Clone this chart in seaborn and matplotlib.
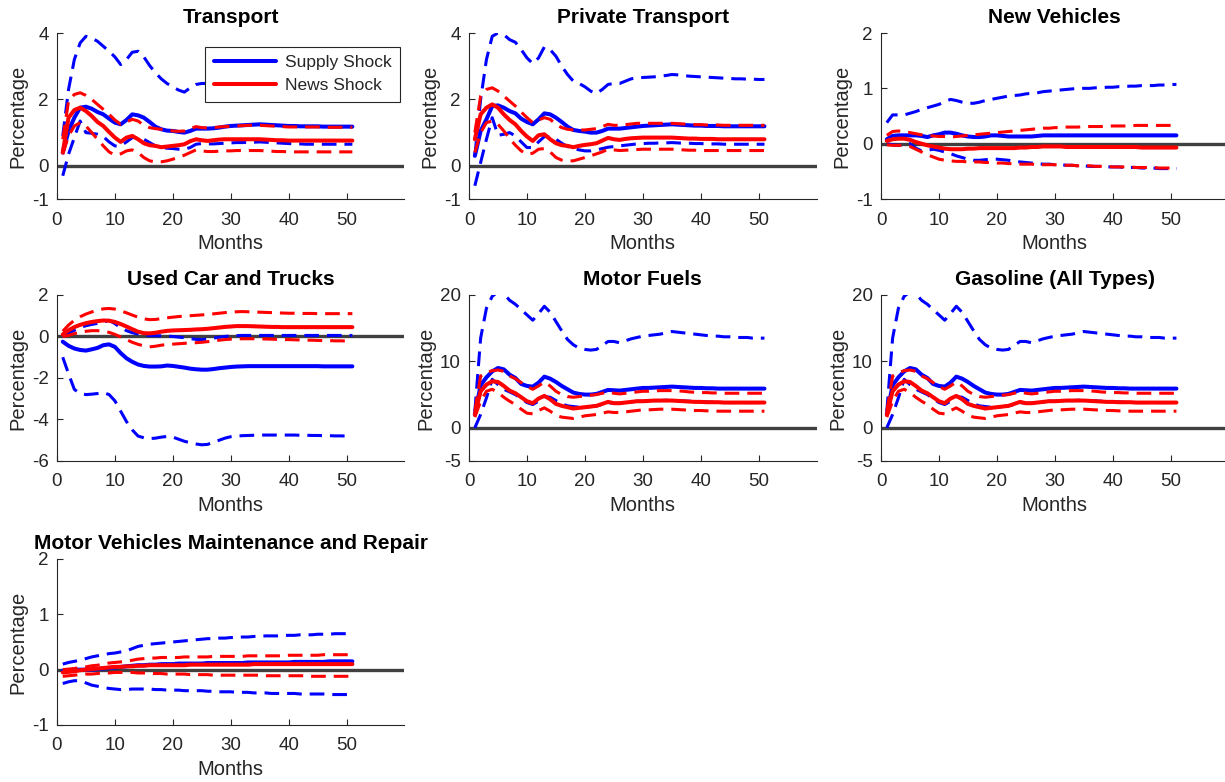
import matplotlib
matplotlib.use("Agg")
import matplotlib.pyplot as plt
import seaborn as sns

# ---------------------------------------------------------------
# Impulse responses (percent) over a 51-month horizon
# med = median response, lo / hi = lower / upper band
# ---------------------------------------------------------------
months = list(range(1, 52))

# Transport
t_sup = [0.40, 1.05, 1.45, 1.75, 1.78, 1.72, 1.62, 1.55, 1.42, 1.30,
         1.25, 1.38, 1.55, 1.52, 1.45, 1.32, 1.18, 1.10, 1.06, 1.05,
         1.02, 1.00, 1.05, 1.12, 1.12, 1.12, 1.13, 1.15, 1.18, 1.20,
         1.21, 1.22, 1.23, 1.24, 1.25, 1.24, 1.23, 1.22, 1.21, 1.20,
         1.20, 1.19, 1.19, 1.19, 1.19, 1.18, 1.18, 1.18, 1.18, 1.18, 1.18]
t_sup_lo = [-0.30, 0.35, 0.85, 1.35, 1.00, 0.98, 0.95, 0.88, 0.72, 0.60,
            0.60, 0.72, 0.85, 0.85, 0.80, 0.70, 0.60, 0.55, 0.53, 0.52,
            0.50, 0.50, 0.55, 0.65, 0.67, 0.66, 0.66, 0.67, 0.68, 0.69,
            0.70, 0.70, 0.71, 0.71, 0.72, 0.71, 0.70, 0.69, 0.68, 0.67,
            0.66, 0.66, 0.65, 0.65, 0.65, 0.65, 0.65, 0.65, 0.65, 0.65, 0.65]
t_sup_hi = [0.90, 2.30, 3.20, 3.70, 3.90, 3.85, 3.75, 3.60, 3.45, 3.28,
            3.05, 3.20, 3.42, 3.45, 3.28, 3.02, 2.80, 2.62, 2.48, 2.38,
            2.28, 2.22, 2.35, 2.45, 2.48, 2.48, 2.52, 2.58, 2.62, 2.65,
            2.66, 2.67, 2.68, 2.70, 2.72, 2.70, 2.68, 2.67, 2.66, 2.65,
            2.64, 2.63, 2.62, 2.62, 2.61, 2.60, 2.60, 2.60, 2.60, 2.60, 2.60]
t_news = [0.40, 1.45, 1.68, 1.75, 1.65, 1.50, 1.32, 1.20, 1.02, 0.85,
          0.72, 0.85, 0.90, 0.80, 0.68, 0.62, 0.60, 0.56, 0.58, 0.60,
          0.62, 0.65, 0.74, 0.80, 0.77, 0.75, 0.77, 0.79, 0.80, 0.80,
          0.80, 0.80, 0.80, 0.80, 0.80, 0.79, 0.78, 0.77, 0.77, 0.76,
          0.76, 0.76, 0.76, 0.76, 0.76, 0.76, 0.76, 0.76, 0.76, 0.76, 0.76]
t_news_lo = [0.35, 0.90, 1.20, 1.30, 1.20, 1.00, 0.80, 0.60, 0.42, 0.32,
             0.36, 0.45, 0.48, 0.40, 0.25, 0.15, 0.12, 0.12, 0.15, 0.20,
             0.25, 0.32, 0.40, 0.48, 0.45, 0.43, 0.43, 0.44, 0.45, 0.45,
             0.46, 0.46, 0.46, 0.46, 0.46, 0.45, 0.44, 0.43, 0.43, 0.42,
             0.42, 0.42, 0.42, 0.42, 0.42, 0.42, 0.42, 0.42, 0.42, 0.42, 0.42]
t_news_hi = [0.80, 1.95, 2.15, 2.20, 2.12, 2.00, 1.85, 1.70, 1.55, 1.38,
             1.25, 1.32, 1.40, 1.35, 1.22, 1.15, 1.12, 1.10, 1.08, 1.05,
             1.04, 1.05, 1.12, 1.18, 1.15, 1.14, 1.15, 1.17, 1.18, 1.19,
             1.20, 1.21, 1.22, 1.22, 1.22, 1.21, 1.20, 1.19, 1.18, 1.17,
             1.17, 1.17, 1.17, 1.17, 1.17, 1.16, 1.16, 1.16, 1.16, 1.16, 1.16]

# Private Transport
p_sup = [0.30, 1.05, 1.40, 1.80, 1.82, 1.75, 1.65, 1.58, 1.42, 1.32,
         1.25, 1.40, 1.58, 1.55, 1.45, 1.32, 1.18, 1.08, 1.05, 1.03,
         1.00, 1.00, 1.05, 1.12, 1.12, 1.12, 1.14, 1.16, 1.18, 1.20,
         1.21, 1.22, 1.23, 1.24, 1.25, 1.24, 1.23, 1.22, 1.21, 1.21,
         1.20, 1.20, 1.20, 1.19, 1.19, 1.19, 1.19, 1.19, 1.19, 1.19, 1.19]
p_sup_lo = [-0.60, 0.10, 0.80, 1.45, 0.92, 0.95, 1.00, 0.90, 0.72, 0.55,
            0.55, 0.72, 0.88, 0.88, 0.80, 0.68, 0.58, 0.52, 0.48, 0.45,
            0.45, 0.48, 0.52, 0.56, 0.58, 0.60, 0.62, 0.64, 0.66, 0.67,
            0.68, 0.68, 0.69, 0.69, 0.70, 0.69, 0.68, 0.68, 0.67, 0.67,
            0.66, 0.66, 0.66, 0.65, 0.65, 0.65, 0.65, 0.65, 0.65, 0.65, 0.65]
p_sup_hi = [0.30, 2.00, 3.20, 3.90, 4.00, 3.95, 3.80, 3.72, 3.50, 3.25,
            3.08, 3.25, 3.58, 3.50, 3.30, 3.00, 2.75, 2.55, 2.48, 2.38,
            2.25, 2.18, 2.30, 2.45, 2.48, 2.48, 2.55, 2.62, 2.65, 2.66,
            2.67, 2.68, 2.70, 2.72, 2.75, 2.74, 2.72, 2.70, 2.69, 2.68,
            2.67, 2.66, 2.65, 2.64, 2.63, 2.62, 2.62, 2.61, 2.61, 2.60, 2.60]
p_news = [0.80, 1.55, 1.75, 1.85, 1.75, 1.55, 1.38, 1.25, 1.05, 0.88,
          0.75, 0.92, 0.95, 0.80, 0.68, 0.62, 0.60, 0.56, 0.60, 0.63,
          0.65, 0.68, 0.76, 0.84, 0.80, 0.78, 0.81, 0.83, 0.84, 0.85,
          0.85, 0.85, 0.85, 0.85, 0.85, 0.84, 0.83, 0.82, 0.82, 0.81,
          0.81, 0.81, 0.80, 0.80, 0.80, 0.80, 0.80, 0.80, 0.80, 0.80, 0.80]
p_news_lo = [0.40, 1.00, 1.30, 1.35, 1.25, 1.05, 0.82, 0.62, 0.45, 0.35,
             0.38, 0.50, 0.52, 0.42, 0.25, 0.17, 0.15, 0.15, 0.20, 0.25,
             0.30, 0.36, 0.42, 0.50, 0.48, 0.46, 0.47, 0.48, 0.49, 0.50,
             0.50, 0.50, 0.50, 0.50, 0.50, 0.49, 0.48, 0.47, 0.47, 0.46,
             0.46, 0.46, 0.46, 0.46, 0.46, 0.46, 0.46, 0.46, 0.46, 0.46, 0.46]
p_news_hi = [1.00, 2.10, 2.30, 2.35, 2.25, 2.10, 1.95, 1.80, 1.62, 1.45,
             1.30, 1.38, 1.45, 1.40, 1.25, 1.15, 1.10, 1.08, 1.08, 1.08,
             1.10, 1.12, 1.18, 1.25, 1.22, 1.22, 1.24, 1.26, 1.28, 1.28,
             1.28, 1.28, 1.28, 1.28, 1.28, 1.27, 1.26, 1.25, 1.24, 1.24,
             1.23, 1.23, 1.23, 1.22, 1.22, 1.22, 1.22, 1.22, 1.22, 1.22, 1.22]

# New Vehicles
n_sup = [0.08, 0.14, 0.15, 0.15, 0.15, 0.15, 0.14, 0.12, 0.15, 0.17,
         0.20, 0.20, 0.18, 0.15, 0.13, 0.12, 0.12, 0.13, 0.15, 0.15,
         0.14, 0.13, 0.13, 0.13, 0.13, 0.13, 0.14, 0.15, 0.15, 0.15,
         0.15, 0.15, 0.15, 0.15, 0.15, 0.15, 0.15, 0.15, 0.15, 0.15,
         0.15, 0.15, 0.15, 0.15, 0.15, 0.15, 0.15, 0.15, 0.15, 0.15, 0.15]
n_sup_lo = [0.00, -0.02, -0.03, -0.02, 0.00, -0.08, -0.13, -0.12, -0.10, -0.12,
            -0.15, -0.18, -0.22, -0.25, -0.28, -0.30, -0.30, -0.29, -0.28, -0.28,
            -0.29, -0.30, -0.32, -0.33, -0.34, -0.35, -0.36, -0.37, -0.37, -0.38,
            -0.38, -0.39, -0.39, -0.40, -0.40, -0.41, -0.41, -0.41, -0.42, -0.42,
            -0.42, -0.43, -0.43, -0.43, -0.44, -0.44, -0.44, -0.45, -0.45, -0.45, -0.45]
n_sup_hi = [0.38, 0.52, 0.52, 0.52, 0.55, 0.58, 0.62, 0.65, 0.68, 0.71,
            0.76, 0.80, 0.78, 0.75, 0.73, 0.73, 0.75, 0.78, 0.80, 0.82,
            0.84, 0.86, 0.87, 0.88, 0.90, 0.91, 0.92, 0.94, 0.95, 0.96,
            0.97, 0.98, 0.99, 1.00, 1.00, 1.00, 1.01, 1.01, 1.02, 1.02,
            1.03, 1.03, 1.04, 1.04, 1.05, 1.05, 1.05, 1.06, 1.06, 1.07, 1.07]
n_news = [0.05, 0.08, 0.09, 0.09, 0.07, 0.03, 0.00, -0.03, -0.05, -0.07,
          -0.09, -0.10, -0.10, -0.10, -0.09, -0.09, -0.08, -0.08, -0.08, -0.08,
          -0.08, -0.08, -0.08, -0.07, -0.07, -0.06, -0.06, -0.05, -0.05, -0.05,
          -0.05, -0.06, -0.06, -0.06, -0.06, -0.06, -0.06, -0.06, -0.06, -0.06,
          -0.06, -0.06, -0.06, -0.06, -0.07, -0.07, -0.07, -0.07, -0.07, -0.07, -0.07]
n_news_lo = [-0.02, -0.03, -0.03, -0.03, -0.05, -0.10, -0.15, -0.20, -0.24, -0.28,
             -0.30, -0.31, -0.32, -0.32, -0.33, -0.33, -0.33, -0.34, -0.34, -0.35,
             -0.35, -0.36, -0.36, -0.37, -0.37, -0.37, -0.38, -0.38, -0.38, -0.38,
             -0.39, -0.39, -0.39, -0.40, -0.40, -0.40, -0.41, -0.41, -0.41, -0.42,
             -0.42, -0.42, -0.42, -0.43, -0.43, -0.43, -0.43, -0.44, -0.44, -0.44, -0.44]
n_news_hi = [0.15, 0.22, 0.23, 0.22, 0.20, 0.18, 0.16, 0.15, 0.14, 0.13,
             0.13, 0.12, 0.13, 0.14, 0.15, 0.16, 0.17, 0.18, 0.19, 0.20,
             0.21, 0.22, 0.23, 0.24, 0.25, 0.26, 0.27, 0.28, 0.28, 0.29,
             0.29, 0.30, 0.30, 0.30, 0.31, 0.31, 0.31, 0.31, 0.32, 0.32,
             0.32, 0.32, 0.32, 0.33, 0.33, 0.33, 0.33, 0.33, 0.33, 0.33, 0.33]

# Used Car and Trucks
u_sup = [-0.25, -0.45, -0.58, -0.65, -0.68, -0.62, -0.55, -0.42, -0.38, -0.50,
         -0.80, -1.05, -1.22, -1.35, -1.42, -1.45, -1.45, -1.44, -1.40, -1.42,
         -1.46, -1.50, -1.55, -1.58, -1.60, -1.60, -1.57, -1.53, -1.50, -1.47,
         -1.45, -1.44, -1.43, -1.43, -1.43, -1.43, -1.43, -1.43, -1.43, -1.43,
         -1.43, -1.43, -1.43, -1.43, -1.43, -1.44, -1.44, -1.44, -1.44, -1.44, -1.44]
u_sup_lo = [-1.00, -1.80, -2.55, -2.75, -2.80, -2.78, -2.75, -2.70, -2.80, -3.10,
            -3.60, -4.10, -4.50, -4.80, -4.88, -4.92, -4.90, -4.85, -4.82, -4.85,
            -4.95, -5.05, -5.12, -5.18, -5.22, -5.20, -5.10, -5.00, -4.90, -4.83,
            -4.80, -4.78, -4.77, -4.76, -4.75, -4.75, -4.75, -4.75, -4.75, -4.75,
            -4.75, -4.76, -4.76, -4.77, -4.77, -4.78, -4.78, -4.79, -4.79, -4.80, -4.80]
u_sup_hi = [0.00, 0.15, 0.30, 0.42, 0.52, 0.58, 0.63, 0.68, 0.78, 0.62,
            0.42, 0.28, 0.18, 0.12, 0.06, 0.04, 0.04, 0.03, 0.02, 0.00,
            -0.03, -0.06, -0.10, -0.14, -0.15, -0.12, -0.08, -0.04, 0.00, 0.03,
            0.04, 0.05, 0.05, 0.05, 0.05, 0.05, 0.05, 0.05, 0.05, 0.05,
            0.05, 0.05, 0.05, 0.05, 0.05, 0.05, 0.05, 0.05, 0.05, 0.05, 0.05]
u_news = [0.10, 0.30, 0.45, 0.56, 0.64, 0.70, 0.74, 0.77, 0.76, 0.70,
          0.60, 0.48, 0.35, 0.23, 0.16, 0.15, 0.18, 0.23, 0.27, 0.29,
          0.30, 0.31, 0.32, 0.34, 0.35, 0.37, 0.40, 0.43, 0.46, 0.48,
          0.50, 0.50, 0.50, 0.49, 0.48, 0.47, 0.46, 0.46, 0.45, 0.45,
          0.45, 0.45, 0.45, 0.45, 0.45, 0.45, 0.45, 0.45, 0.45, 0.45, 0.45]
u_news_lo = [0.00, 0.05, 0.14, 0.20, 0.25, 0.28, 0.28, 0.25, 0.20, 0.10,
             -0.02, -0.15, -0.28, -0.38, -0.45, -0.50, -0.47, -0.42, -0.39, -0.37,
             -0.35, -0.33, -0.31, -0.30, -0.28, -0.25, -0.22, -0.18, -0.15, -0.13,
             -0.12, -0.11, -0.11, -0.11, -0.12, -0.12, -0.13, -0.14, -0.15, -0.15,
             -0.16, -0.17, -0.18, -0.18, -0.19, -0.20, -0.20, -0.21, -0.21, -0.22, -0.22]
u_news_hi = [0.25, 0.55, 0.78, 0.95, 1.08, 1.18, 1.27, 1.33, 1.35, 1.32,
             1.24, 1.14, 1.03, 0.93, 0.85, 0.81, 0.82, 0.86, 0.90, 0.93,
             0.96, 0.98, 1.00, 1.02, 1.04, 1.06, 1.09, 1.12, 1.15, 1.17,
             1.19, 1.20, 1.19, 1.18, 1.17, 1.16, 1.15, 1.14, 1.13, 1.12,
             1.12, 1.11, 1.11, 1.11, 1.10, 1.10, 1.10, 1.10, 1.10, 1.10, 1.10]

# Motor Fuels (Gasoline (All Types) follows the same path)
f_sup = [2.0, 6.4, 7.6, 8.5, 9.0, 8.8, 8.0, 7.5, 6.6, 6.3,
         6.2, 6.8, 7.7, 7.4, 6.9, 6.3, 5.8, 5.3, 5.1, 5.0,
         5.0, 5.1, 5.4, 5.7, 5.65, 5.6, 5.7, 5.8, 5.9, 6.0,
         6.0, 6.05, 6.1, 6.15, 6.2, 6.15, 6.1, 6.05, 6.0, 6.0,
         5.95, 5.95, 5.9, 5.9, 5.9, 5.9, 5.9, 5.9, 5.9, 5.9, 5.9]
f_sup_lo = [0.0, 2.0, 4.5, 7.3, 6.5, 5.8, 5.4, 5.0, 4.4, 3.8,
            3.5, 4.0, 4.7, 4.6, 4.1, 3.6, 3.3, 3.2, 3.1, 3.1,
            3.2, 3.3, 3.5, 3.8, 3.7, 3.7, 3.8, 3.9, 4.0, 4.0,
            4.05, 4.1, 4.1, 4.15, 4.15, 4.1, 4.05, 4.0, 3.95, 3.9,
            3.9, 3.85, 3.85, 3.8, 3.8, 3.8, 3.8, 3.8, 3.8, 3.8, 3.8]
f_sup_hi = [2.5, 13.5, 18.0, 19.8, 20.5, 20.2, 19.2, 18.6, 17.8, 17.0,
            16.2, 17.2, 18.3, 17.4, 16.0, 14.6, 13.3, 12.5, 12.0, 11.8,
            11.7, 11.8, 12.4, 13.0, 13.0, 12.8, 13.1, 13.4, 13.6, 13.8,
            13.9, 14.0, 14.1, 14.3, 14.5, 14.4, 14.3, 14.2, 14.1, 14.0,
            13.9, 13.8, 13.8, 13.7, 13.7, 13.6, 13.6, 13.6, 13.5, 13.5, 13.5]
f_news = [2.0, 5.5, 6.5, 7.0, 6.9, 6.3, 5.6, 5.2, 4.6, 4.0,
          3.7, 4.4, 4.8, 4.3, 3.6, 3.3, 3.1, 2.9, 3.0, 3.1,
          3.2, 3.3, 3.6, 3.9, 3.7, 3.7, 3.8, 3.9, 4.0, 4.0,
          4.05, 4.1, 4.1, 4.1, 4.1, 4.05, 4.0, 3.95, 3.9, 3.9,
          3.85, 3.85, 3.85, 3.8, 3.8, 3.8, 3.8, 3.8, 3.8, 3.8, 3.8]
f_news_lo = [1.6, 4.0, 5.5, 5.8, 5.3, 4.6, 4.0, 3.5, 2.8, 2.2,
             2.1, 2.6, 3.0, 2.5, 1.9, 1.6, 1.5, 1.4, 1.6, 1.8,
             1.9, 2.0, 2.2, 2.4, 2.3, 2.3, 2.4, 2.5, 2.6, 2.7,
             2.7, 2.75, 2.8, 2.8, 2.8, 2.75, 2.7, 2.65, 2.6, 2.6,
             2.55, 2.55, 2.5, 2.5, 2.5, 2.5, 2.5, 2.5, 2.5, 2.5, 2.5]
f_news_hi = [2.5, 7.8, 8.3, 8.6, 8.7, 8.5, 7.8, 7.4, 6.8, 6.2,
             5.8, 6.3, 6.9, 6.3, 5.5, 5.0, 4.7, 4.6, 4.7, 4.8,
             4.9, 5.0, 5.2, 5.4, 5.2, 5.1, 5.2, 5.3, 5.4, 5.5,
             5.5, 5.55, 5.6, 5.6, 5.6, 5.55, 5.5, 5.4, 5.35, 5.3,
             5.3, 5.25, 5.25, 5.2, 5.2, 5.2, 5.2, 5.2, 5.2, 5.2, 5.2]

# Motor Vehicles Maintenance and Repair
m_sup = [-0.02, -0.01, 0.00, 0.00, 0.00, 0.00, 0.01, 0.02, 0.03, 0.04,
         0.05, 0.06, 0.07, 0.08, 0.08, 0.09, 0.09, 0.10, 0.10, 0.10,
         0.11, 0.11, 0.11, 0.11, 0.11, 0.12, 0.12, 0.12, 0.12, 0.12,
         0.12, 0.12, 0.13, 0.13, 0.13, 0.13, 0.13, 0.13, 0.13, 0.13,
         0.14, 0.14, 0.14, 0.14, 0.14, 0.14, 0.15, 0.15, 0.15, 0.15, 0.15]
m_sup_lo = [-0.25, -0.22, -0.20, -0.20, -0.24, -0.28, -0.30, -0.32, -0.34, -0.35,
            -0.36, -0.36, -0.35, -0.35, -0.35, -0.35, -0.36, -0.36, -0.37, -0.37,
            -0.37, -0.38, -0.38, -0.38, -0.38, -0.39, -0.39, -0.40, -0.40, -0.40,
            -0.41, -0.41, -0.41, -0.42, -0.42, -0.42, -0.43, -0.43, -0.43, -0.43,
            -0.43, -0.44, -0.44, -0.44, -0.44, -0.44, -0.45, -0.45, -0.45, -0.45, -0.45]
m_sup_hi = [0.10, 0.13, 0.15, 0.17, 0.20, 0.23, 0.25, 0.27, 0.29, 0.30,
            0.32, 0.34, 0.38, 0.42, 0.44, 0.46, 0.47, 0.48, 0.49, 0.50,
            0.51, 0.52, 0.53, 0.54, 0.55, 0.56, 0.56, 0.57, 0.57, 0.58,
            0.58, 0.59, 0.59, 0.60, 0.60, 0.61, 0.61, 0.61, 0.62, 0.62,
            0.62, 0.63, 0.63, 0.63, 0.64, 0.64, 0.64, 0.65, 0.65, 0.65, 0.65]
m_news = [-0.05, -0.04, -0.03, -0.01, 0.00, 0.01, 0.02, 0.03, 0.04, 0.05,
          0.05, 0.06, 0.06, 0.07, 0.07, 0.08, 0.08, 0.08, 0.08, 0.08,
          0.08, 0.08, 0.09, 0.09, 0.09, 0.09, 0.09, 0.09, 0.09, 0.09,
          0.09, 0.09, 0.09, 0.10, 0.10, 0.10, 0.10, 0.10, 0.10, 0.10,
          0.10, 0.10, 0.10, 0.10, 0.10, 0.10, 0.10, 0.10, 0.10, 0.10, 0.10]
m_news_lo = [-0.12, -0.11, -0.10, -0.09, -0.08, -0.08, -0.07, -0.06, -0.06, -0.05,
             -0.05, -0.05, -0.05, -0.06, -0.06, -0.07, -0.07, -0.07, -0.08, -0.08,
             -0.08, -0.08, -0.09, -0.09, -0.09, -0.09, -0.10, -0.10, -0.10, -0.10,
             -0.10, -0.10, -0.10, -0.10, -0.10, -0.11, -0.11, -0.11, -0.11, -0.11,
             -0.11, -0.11, -0.11, -0.12, -0.12, -0.12, -0.12, -0.12, -0.12, -0.12, -0.12]
m_news_hi = [0.00, 0.01, 0.02, 0.04, 0.05, 0.07, 0.08, 0.10, 0.12, 0.13,
             0.14, 0.15, 0.17, 0.19, 0.20, 0.21, 0.21, 0.22, 0.22, 0.22,
             0.22, 0.23, 0.23, 0.23, 0.23, 0.23, 0.24, 0.24, 0.24, 0.24,
             0.24, 0.24, 0.25, 0.25, 0.25, 0.25, 0.25, 0.25, 0.25, 0.26,
             0.26, 0.26, 0.26, 0.26, 0.26, 0.27, 0.27, 0.27, 0.27, 0.27, 0.27]

titles = ["Transport", "Private Transport", "New Vehicles",
          "Used Car and Trucks", "Motor Fuels", "Gasoline (All Types)",
          "Motor Vehicles Maintenance and Repair"]
series_labels = ["Supply Shock", "News Shock"]
x_ticks = [0, 10, 20, 30, 40, 50]
y_ticks = [[-1, 0, 2, 4], [-1, 0, 2, 4], [-1, 0, 1, 2],
           [-6, -4, -2, 0, 2], [-5, 0, 10, 20], [-5, 0, 10, 20],
           [-1, 0, 1, 2]]

panels = [
    (t_sup, t_sup_lo, t_sup_hi, t_news, t_news_lo, t_news_hi),
    (p_sup, p_sup_lo, p_sup_hi, p_news, p_news_lo, p_news_hi),
    (n_sup, n_sup_lo, n_sup_hi, n_news, n_news_lo, n_news_hi),
    (u_sup, u_sup_lo, u_sup_hi, u_news, u_news_lo, u_news_hi),
    (f_sup, f_sup_lo, f_sup_hi, f_news, f_news_lo, f_news_hi),
    (f_sup, f_sup_lo, f_sup_hi, f_news, f_news_lo, f_news_hi),
    (m_sup, m_sup_lo, m_sup_hi, m_news, m_news_lo, m_news_hi),
]

# ---------------------------------------------------------------
# Styling
# ---------------------------------------------------------------
sns.set_theme(style="ticks")
plt.rcParams["font.family"] = ["Liberation Sans", "DejaVu Sans"]
plt.rcParams["axes.linewidth"] = 0.8
plt.rcParams["axes.unicode_minus"] = False

BLUE = "#0000ff"
RED = "#ff0000"
AXIS_GREY = "#262626"
SOLID_LW = 2.9
DASH_LW = 2.2
DASH = (0, (4.8, 2.6))

fig = plt.figure(figsize=(12.25, 7.82), dpi=100)

col_left = [0.0465, 0.3829, 0.7192]
row_bottom = [0.7455, 0.4105, 0.0729]
ax_w, ax_h = 0.2837, 0.2123


def draw_panel(ax, title, data, yt, with_legend=False):
    sup, sup_lo, sup_hi, news, news_lo, news_hi = data
    ax.axhline(0, color="#404040", lw=2.4, zorder=1)

    for band in (sup_lo, sup_hi):
        sns.lineplot(x=months, y=band, ax=ax, color=BLUE, linewidth=DASH_LW,
                     linestyle=DASH, errorbar=None, legend=False, zorder=2)
    sns.lineplot(x=months, y=sup, ax=ax, color=BLUE, linewidth=SOLID_LW,
                 errorbar=None, legend=False, zorder=3)
    sup_line = ax.lines[-1]

    for band in (news_lo, news_hi):
        sns.lineplot(x=months, y=band, ax=ax, color=RED, linewidth=DASH_LW,
                     linestyle=DASH, errorbar=None, legend=False, zorder=4)
    sns.lineplot(x=months, y=news, ax=ax, color=RED, linewidth=SOLID_LW,
                 errorbar=None, legend=False, zorder=5)
    news_line = ax.lines[-1]

    ax.set_xlim(0, 60)
    ax.set_ylim(yt[0], yt[-1])
    ax.set_xticks(x_ticks)
    ax.set_yticks(yt)
    ax.tick_params(direction="in", length=4, width=0.8, colors=AXIS_GREY,
                   labelsize=13.5)
    ax.tick_params(axis="x", pad=9)
    ax.tick_params(axis="y", pad=6)
    for side in ("left", "bottom"):
        ax.spines[side].set_color(AXIS_GREY)
    sns.despine(ax=ax)

    ax.set_xlabel("Months", fontsize=14.5, color=AXIS_GREY, labelpad=4)
    ax.set_ylabel("Percentage", fontsize=14.5, color=AXIS_GREY, labelpad=3)
    ax.set_title(title, fontsize=15, fontweight="bold", color="black", pad=7)

    if with_legend:
        leg = ax.legend([sup_line, news_line], series_labels,
                        loc="upper right", bbox_to_anchor=(0.988, 0.918),
                        borderaxespad=0, fontsize=12.5, frameon=True,
                        fancybox=False, framealpha=1, edgecolor=AXIS_GREY,
                        handlelength=3.6, handletextpad=0.5, borderpad=0.5,
                        labelspacing=0.45)
        leg.get_frame().set_linewidth(0.8)
        leg.set_zorder(10)


positions = [(0, 0), (0, 1), (0, 2), (1, 0), (1, 1), (1, 2), (2, 0)]
for i, (r, c) in enumerate(positions):
    ax = fig.add_axes([col_left[c], row_bottom[r], ax_w, ax_h])
    draw_panel(ax, titles[i], panels[i], y_ticks[i], with_legend=(i == 0))

fig.savefig("out.png", dpi=100)
